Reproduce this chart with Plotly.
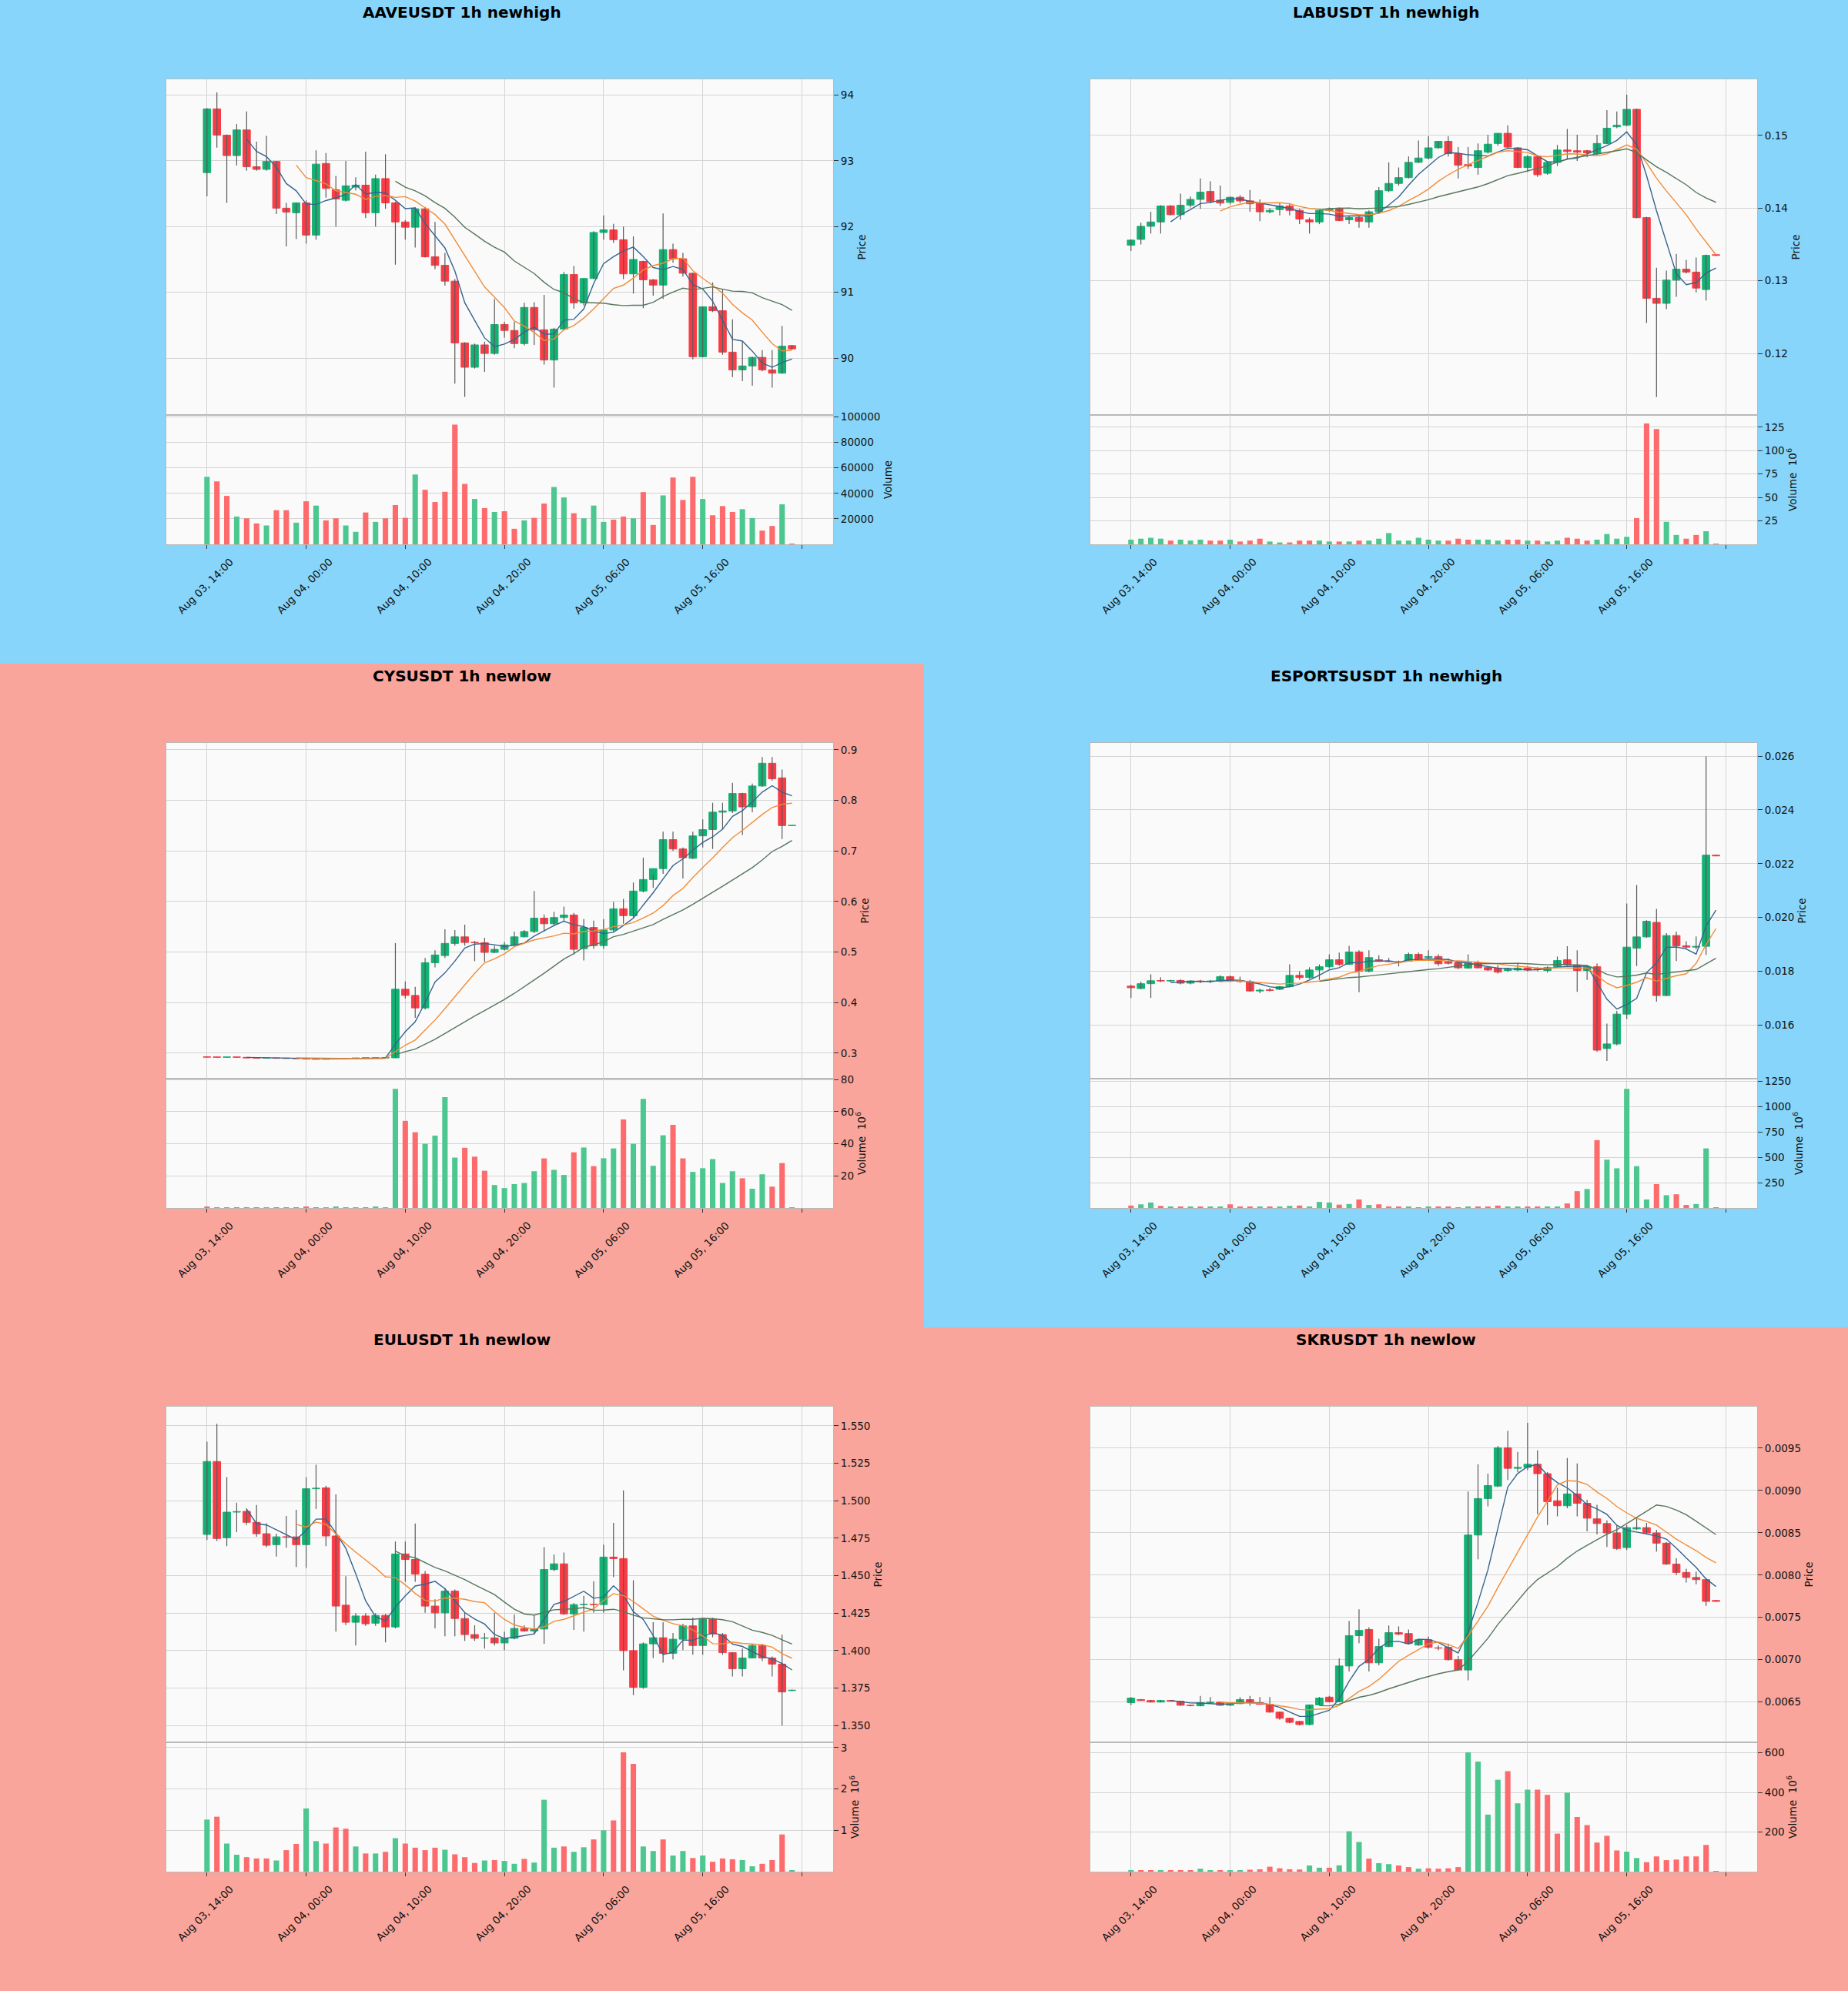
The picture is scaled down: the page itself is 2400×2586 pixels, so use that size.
import plotly.graph_objects as go
import pandas as pd

W, H = 2400, 2586

# ---------------- shared x axis ----------------
x_tick_index = [0, 10, 20, 30, 40, 50]
x_tick_labels = ["Aug 03, 14:00", "Aug 04, 00:00", "Aug 04, 10:00", "Aug 04, 20:00",
                 "Aug 05, 06:00", "Aug 05, 16:00"]
ma_windows = [5, 10, 20]

# ---------------- AAVEUSDT ----------------
aave_open = [92.82, 93.79, 93.39, 93.08, 93.47, 92.91, 92.87, 92.99, 92.28, 92.21,
             92.36, 91.87, 92.96, 92.56, 92.40, 92.60, 92.63, 92.21, 92.73, 92.36,
             92.07, 91.99, 92.27, 91.54, 91.41, 91.17, 90.23, 89.86, 90.20, 90.07,
             90.51, 90.42, 90.22, 90.77, 90.43, 89.97, 90.44, 91.27, 90.84, 91.21,
             91.91, 91.95, 91.80, 91.28, 91.47, 91.19, 91.11, 91.65, 91.51, 91.29,
             90.02, 90.78, 90.72, 90.09, 89.82, 89.88, 90.01, 89.82, 89.77, 90.19]
aave_high = [93.80, 94.04, 93.40, 93.56, 93.75, 93.29, 93.38, 93.00, 92.36, 92.36,
             92.40, 93.16, 93.12, 92.77, 93.00, 92.75, 93.14, 92.79, 93.10, 92.38,
             92.10, 92.29, 92.30, 92.07, 91.60, 91.20, 90.24, 90.22, 90.25, 90.90,
             90.55, 90.55, 90.84, 90.85, 90.96, 90.46, 91.31, 91.40, 91.21, 91.93,
             92.17, 92.04, 92.00, 91.85, 91.48, 91.20, 92.20, 91.74, 91.60, 91.30,
             90.78, 91.15, 91.05, 90.59, 90.25, 90.02, 90.12, 90.12, 90.49, 90.20]
aave_low = [92.46, 93.20, 92.36, 92.93, 92.85, 92.85, 92.85, 92.19, 91.70, 91.81,
            91.74, 91.80, 92.44, 92.00, 92.38, 92.55, 92.13, 92.00, 92.27, 91.42,
            91.80, 91.68, 91.53, 91.35, 91.10, 89.61, 89.41, 89.84, 89.79, 90.05,
            90.31, 90.15, 90.19, 90.20, 89.90, 89.55, 90.42, 90.75, 90.80, 91.20,
            91.80, 91.75, 91.20, 90.98, 90.76, 90.95, 90.90, 91.45, 91.24, 89.98,
            90.01, 90.70, 90.05, 89.71, 89.65, 89.58, 89.80, 89.55, 89.76, 90.13]
aave_close = [93.79, 93.39, 93.08, 93.47, 92.91, 92.87, 92.99, 92.28, 92.22, 92.36,
              91.87, 92.95, 92.58, 92.42, 92.62, 92.63, 92.21, 92.73, 92.36, 92.07,
              91.99, 92.27, 91.54, 91.41, 91.17, 90.23, 89.86, 90.20, 90.07, 90.51,
              90.42, 90.22, 90.77, 90.43, 89.97, 90.44, 91.27, 90.84, 91.21, 91.91,
              91.95, 91.80, 91.28, 91.50, 91.19, 91.11, 91.65, 91.51, 91.29, 90.02,
              90.78, 90.72, 90.09, 89.82, 89.88, 90.01, 89.82, 89.77, 90.18, 90.14]
aave_volume = [53000, 49400, 38000, 21800, 20400, 16400, 14800, 26800, 26800, 17000,
               33800, 30400, 18800, 20400, 14800, 9800, 25000, 17600, 20400, 30800,
               20800, 54800, 42800, 33200, 41200, 94000, 47400, 35600, 28400, 25400,
               26000, 12200, 18800, 20800, 32000, 45000, 36800, 24400, 20400, 30400,
               17600, 19400, 21800, 20400, 41000, 15200, 38400, 52400, 34800, 53000,
               35600, 22800, 30000, 25400, 27600, 20600, 10800, 14400, 31400, 500]
aave_price_ticks = ["90", "91", "92", "93", "94"]
aave_volume_ticks = ["20000", "40000", "60000", "80000", "100000"]

# ---------------- LABUSDT ----------------
lab_open = [.1349, .1357, .1375, .1381, .1403, .1391, .1404, .1412, .1423, .1411,
            .1408, .1415, .1410, .1407, .1395, .1398, .1403, .1397, .1384, .1381,
            .1397, .1400, .1384, .1387, .1381, .1395, .1424, .1434, .1442, .1463,
            .1469, .1483, .1492, .1475, .1460, .1456, .1477, .1489, .1503, .1483,
            .1456, .1471, .1448, .1463, .1480, .1479, .1479, .1475, .1489, .1512,
            .1514, .1536, .1387, .1276, .1269, .1301, .1316, .1312, .1288, .1336]
lab_high = [.1357, .1380, .1395, .1404, .1404, .1420, .1416, .1441, .1437, .1431,
            .1416, .1418, .1425, .1412, .1400, .1407, .1407, .1399, .1387, .1399,
            .1401, .1401, .1390, .1390, .1397, .1429, .1463, .1456, .1471, .1493,
            .1499, .1492, .1499, .1484, .1484, .1489, .1501, .1503, .1514, .1484,
            .1473, .1473, .1465, .1487, .1509, .1501, .1480, .1501, .1535, .1533,
            .1556, .1537, .1388, .1318, .1314, .1337, .1329, .1332, .1336, .1336]
lab_low = [.1341, .1350, .1365, .1365, .1390, .1384, .1401, .1399, .1407, .1403,
           .1405, .1407, .1395, .1382, .1393, .1390, .1390, .1378, .1365, .1378,
           .1395, .1382, .1378, .1373, .1373, .1392, .1422, .1431, .1441, .1462,
           .1467, .1482, .1471, .1441, .1454, .1446, .1475, .1486, .1482, .1455,
           .1450, .1443, .1446, .1458, .1467, .1465, .1470, .1473, .1488, .1510,
           .1513, .1386, .1242, .1140, .1261, .1278, .1310, .1284, .1273, .1334]
lab_close = [.1356, .1375, .1381, .1403, .1391, .1404, .1412, .1422, .1409, .1407,
             .1415, .1410, .1406, .1395, .1397, .1403, .1397, .1385, .1381, .1397,
             .1399, .1383, .1387, .1382, .1395, .1424, .1434, .1442, .1463, .1469,
             .1483, .1492, .1475, .1459, .1458, .1479, .1488, .1503, .1484, .1456,
             .1471, .1446, .1463, .1480, .1478, .1477, .1476, .1489, .1510, .1514,
             .1536, .1387, .1276, .1269, .1301, .1316, .1312, .1290, .1335, .1335]
lab_volume = [5, 6, 7, 6, 4, 5, 4, 5, 4, 4, 5, 3, 4, 6, 3, 2, 2, 4, 4, 4,
              3, 3, 3, 4, 4, 6, 12, 4, 4, 7, 5, 4, 4, 6, 5, 5, 5, 4, 5, 5,
              4, 4, 3, 4, 7, 6, 4, 5, 11, 6, 8, 28, 129, 123, 24, 10, 6, 10, 14, 0.5]
lab_price_ticks = ["0.12", "0.13", "0.14", "0.15"]
lab_volume_ticks = ["25", "50", "75", "100", "125"]

# ---------------- CYSUSDT ----------------
cys_open = [.2926, .2920, .2918, .2920, .2918, .2905, .2900, .2902, .2898, .2895,
            .2890, .2884, .2880, .2887, .2892, .2898, .2904, .2902, .2905, .2908,
            .4265, .4142, .3895, .4789, .4931, .5171, .5301, .5190, .5185, .4993,
            .5054, .5141, .5301, .5406, .5671, .5560, .5683, .5733, .5067, .5486,
            .5128, .5437, .5856, .5720, .6207, .6435, .6651, .7224, .7039, .6855,
            .7298, .7422, .7767, .7792, .8137, .7872, .8285, .8735, .8445, .7500]
cys_high = [.2930, .2924, .2924, .2922, .2920, .2908, .2906, .2904, .2900, .2898,
            .2893, .2888, .2890, .2894, .2900, .2908, .2908, .2908, .2912, .5178,
            .4419, .4314, .4882, .5036, .5449, .5437, .5541, .5220, .5282, .5128,
            .5200, .5406, .5437, .6207, .5745, .5796, .5899, .5776, .5652, .5621,
            .5652, .5991, .6053, .6374, .6867, .6530, .7379, .7379, .7070, .7379,
            .7625, .7952, .7952, .8347, .8150, .8334, .8858, .8858, .8612, .7505]
cys_low = [.2918, .2915, .2915, .2912, .2900, .2895, .2896, .2894, .2890, .2886,
           .2878, .2874, .2876, .2882, .2888, .2894, .2896, .2898, .2900, .2905,
           .4080, .3698, .3864, .4697, .4882, .5128, .5128, .4820, .4808, .4980,
           .5030, .5120, .5290, .5380, .5406, .5510, .5610, .4956, .4832, .5067,
           .5067, .5400, .5560, .5680, .6180, .6269, .6546, .7000, .6454, .6840,
           .7070, .7039, .7422, .7750, .7317, .7767, .8270, .8390, .7237, .7498]
cys_close = [.2920, .2918, .2920, .2918, .2905, .2900, .2902, .2898, .2895, .2890,
             .2884, .2880, .2887, .2892, .2898, .2904, .2902, .2905, .2908, .4265,
             .4142, .3895, .4789, .4943, .5171, .5301, .5190, .5185, .4993, .5054,
             .5141, .5301, .5406, .5671, .5560, .5683, .5733, .5054, .5486, .5128,
             .5437, .5856, .5720, .6207, .6435, .6651, .7224, .7039, .6867, .7298,
             .7422, .7767, .7792, .8137, .7872, .8285, .8735, .8427, .7502, .7503]
cys_volume = [0.6, 0.1, 0.1, 0.1, 0.1, 0.1, 0.1, 0.1, 0.1, 0.2,
              0.8, 0.2, 0.1, 0.7, 0.1, 0.1, 0.2, 0.6, 0.1, 74.3,
              54.3, 47.2, 40.0, 45.1, 69.1, 31.4, 37.5, 32.0, 23.2, 14.3,
              12.4, 14.9, 15.6, 22.9, 30.9, 23.8, 20.6, 34.7, 37.7, 26.1,
              31.0, 37.1, 55.2, 40.0, 68.0, 26.3, 45.3, 51.8, 30.9, 22.5,
              24.8, 30.5, 15.6, 22.9, 18.5, 12.0, 21.0, 13.3, 28.0, 0.3]
cys_price_ticks = ["0.3", "0.4", "0.5", "0.6", "0.7", "0.8", "0.9"]
cys_volume_ticks = ["20", "40", "60", "80"]

# ---------------- ESPORTSUSDT ----------------
esports_open = [.01745, .01736, .01754, .01766, .01764, .01766, .01756, .01764, .01762, .01764,
                .01780, .01766, .01762, .01727, .01731, .01733, .01743, .01785, .01777, .01805,
                .01817, .01843, .01826, .01872, .01800, .01843, .01838, .01836, .01838, .01863,
                .01851, .01855, .01836, .01832, .01812, .01832, .01814, .01812, .01803, .01805,
                .01812, .01809, .01803, .01817, .01843, .01824, .01803, .01817, .01513, .01530,
                .01641, .01886, .01928, .01982, .01710, .01933, .01895, .01890, .01893, .02232]
esports_high = [.01750, .01762, .01789, .01778, .01768, .01770, .01766, .01768, .01768, .01785,
                .01785, .01780, .01768, .01736, .01738, .01745, .01826, .01800, .01815, .01826,
                .01863, .01870, .01895, .01878, .01878, .01860, .01850, .01840, .01870, .01870,
                .01878, .01863, .01848, .01835, .01863, .01840, .01818, .01823, .01812, .01832,
                .01820, .01815, .01818, .01855, .01893, .01878, .01820, .01829, .01606, .01653,
                .02052, .02121, .01990, .02032, .01942, .01948, .01912, .01930, .02599, .02233]
esports_low = [.01701, .01734, .01701, .01760, .01760, .01752, .01752, .01756, .01756, .01760,
               .01760, .01758, .01724, .01719, .01725, .01730, .01740, .01768, .01772, .01768,
               .01810, .01820, .01824, .01722, .01797, .01836, .01834, .01818, .01836, .01840,
               .01848, .01820, .01825, .01808, .01810, .01810, .01802, .01792, .01798, .01800,
               .01800, .01800, .01795, .01812, .01820, .01724, .01768, .01501, .01467, .01525,
               .01623, .01820, .01925, .01687, .01708, .01838, .01883, .01882, .01861, .02228]
esports_close = [.01739, .01754, .01765, .01764, .01766, .01756, .01764, .01762, .01764, .01780,
                 .01766, .01762, .01727, .01730, .01729, .01743, .01785, .01777, .01805, .01817,
                 .01843, .01826, .01872, .01800, .01851, .01838, .01836, .01834, .01863, .01843,
                 .01855, .01828, .01830, .01813, .01832, .01813, .01805, .01797, .01808, .01812,
                 .01805, .01808, .01814, .01840, .01824, .01803, .01817, .01507, .01530, .01641,
                 .01890, .01928, .01986, .01710, .01933, .01895, .01890, .01893, .02232, .02229]
esports_volume = [24, 36, 54, 21, 9, 9, 9, 9, 9, 9, 36, 12, 9, 9, 9, 9, 21, 24, 15, 60,
                  54, 33, 39, 84, 30, 36, 15, 9, 9, 3, 9, 9, 9, 3, 15, 15, 12, 24, 15, 15,
                  12, 12, 15, 15, 45, 166, 187, 668, 476, 391, 1174, 412, 84, 235, 126, 135,
                  30, 39, 587, 2]
esports_price_ticks = ["0.016", "0.018", "0.020", "0.022", "0.024", "0.026"]
esports_volume_ticks = ["250", "500", "750", "1000", "1250"]

# ---------------- EULUSDT ----------------
eul_open = [1.4775, 1.5262, 1.4753, 1.4924, 1.4929, 1.4856, 1.4780, 1.4707, 1.4759, 1.4759,
            1.4707, 1.5080, 1.5086, 1.4765, 1.4303, 1.4189, 1.4231, 1.4183, 1.4235, 1.4158,
            1.4645, 1.4608, 1.4510, 1.4297, 1.4252, 1.4397, 1.4214, 1.4107, 1.4082, 1.4085,
            1.4051, 1.4082, 1.4148, 1.4131, 1.4144, 1.4541, 1.4579, 1.4245, 1.4307, 1.4310,
            1.4307, 1.4624, 1.4614, 1.4000, 1.3755, 1.4045, 1.4086, 1.3982, 1.4076, 1.4165,
            1.4034, 1.4210, 1.4107, 1.3987, 1.3879, 1.3951, 1.4034, 1.3951, 1.3910, 1.3733]
eul_high = [1.5394, 1.5514, 1.5158, 1.4987, 1.4950, 1.4972, 1.4850, 1.4780, 1.4898, 1.4939,
            1.5158, 1.5241, 1.5100, 1.5042, 1.4496, 1.4250, 1.4250, 1.4250, 1.4245, 1.4728,
            1.4728, 1.4848, 1.4531, 1.4342, 1.4418, 1.4408, 1.4252, 1.4169, 1.4117, 1.4252,
            1.4127, 1.4241, 1.4169, 1.4241, 1.4690, 1.4641, 1.4655, 1.4318, 1.4366, 1.4463,
            1.4707, 1.4852, 1.5069, 1.4469, 1.4055, 1.4189, 1.4189, 1.4117, 1.4179, 1.4220,
            1.4220, 1.4220, 1.4117, 1.3989, 1.4014, 1.4044, 1.4044, 1.3961, 1.4107, 1.3740]
eul_low = [1.4738, 1.4732, 1.4697, 1.4790, 1.4840, 1.4760, 1.4690, 1.4628, 1.4686, 1.4558,
           1.4552, 1.4945, 1.4697, 1.4127, 1.4170, 1.4034, 1.4165, 1.4165, 1.4055, 1.4148,
           1.4459, 1.4459, 1.4252, 1.4148, 1.4096, 1.4096, 1.4065, 1.4065, 1.4013, 1.4034,
           1.4003, 1.4075, 1.4127, 1.4107, 1.4045, 1.4530, 1.4240, 1.4138, 1.4127, 1.4252,
           1.4252, 1.4490, 1.3869, 1.3703, 1.3745, 1.3951, 1.3920, 1.3941, 1.4003, 1.3972,
           1.3972, 1.4089, 1.3972, 1.3827, 1.3827, 1.3951, 1.3930, 1.3827, 1.3500, 1.3730]
eul_close = [1.5262, 1.4748, 1.4924, 1.4928, 1.4856, 1.4780, 1.4703, 1.4759, 1.4757, 1.4707,
             1.5080, 1.5084, 1.4765, 1.4297, 1.4189, 1.4231, 1.4179, 1.4235, 1.4158, 1.4645,
             1.4608, 1.4510, 1.4297, 1.4252, 1.4397, 1.4214, 1.4107, 1.4082, 1.4085, 1.4051,
             1.4082, 1.4148, 1.4131, 1.4144, 1.4541, 1.4579, 1.4245, 1.4307, 1.4310, 1.4307,
             1.4624, 1.4614, 1.4000, 1.3755, 1.4045, 1.4086, 1.3982, 1.4076, 1.4165, 1.4034,
             1.4210, 1.4111, 1.3987, 1.3879, 1.3951, 1.4034, 1.3951, 1.3910, 1.3724, 1.3736]
eul_volume = [1.26, 1.33, 0.68, 0.41, 0.35, 0.32, 0.32, 0.27, 0.52, 0.67,
              1.53, 0.74, 0.68, 1.07, 1.04, 0.61, 0.44, 0.44, 0.48, 0.81,
              0.68, 0.58, 0.52, 0.58, 0.53, 0.42, 0.35, 0.21, 0.27, 0.28,
              0.26, 0.19, 0.31, 0.22, 1.74, 0.58, 0.61, 0.48, 0.59, 0.78,
              1.00, 1.24, 2.89, 2.61, 0.61, 0.50, 0.78, 0.39, 0.50, 0.33,
              0.39, 0.24, 0.32, 0.30, 0.28, 0.13, 0.19, 0.28, 0.90, 0.02]
eul_price_ticks = ["1.350", "1.375", "1.400", "1.425", "1.450", "1.475", "1.500", "1.525", "1.550"]
eul_volume_ticks = ["1", "2", "3"]

# ---------------- SKRUSDT ----------------
skr_open = [.006492, .006529, .006518, .006499, .006518, .006510, .006462, .006455, .006492, .006499,
            .006462, .006481, .006529, .006492, .006473, .006381, .006308, .006271, .006234, .006466,
            .006558, .006503, .006926, .007284, .007357, .006963, .007155, .007320, .007309, .007173,
            .007236, .007140, .007147, .007000, .006878, .008473, .008904, .009051, .009504, .009261,
            .009272, .009309, .009198, .008878, .008819, .008959, .008848, .008664, .008609, .008498,
            .008325, .008546, .008561, .008498, .008377, .008130, .008031, .007972, .007946, .007700]
skr_high = [.006558, .006535, .006525, .006525, .006525, .006515, .006470, .006573, .006558, .006505,
            .006490, .006558, .006573, .006558, .006558, .006385, .006315, .006275, .006470, .006560,
            .006573, .007015, .007457, .007596, .007383, .007247, .007405, .007394, .007357, .007250,
            .007272, .007170, .007191, .007044, .008988, .009309, .009198, .009526, .009703, .009456,
            .009798, .009474, .009216, .009032, .009382, .009319, .008890, .008830, .008645, .008590,
            .008590, .008682, .008616, .008535, .008390, .008200, .008075, .008040, .007965, .007702]
skr_low = [.006462, .006515, .006495, .006495, .006505, .006455, .006450, .006450, .006485, .006455,
           .006455, .006475, .006455, .006470, .006374, .006290, .006250, .006223, .006226, .006460,
           .006495, .006500, .006860, .007195, .006860, .006934, .007150, .007290, .007180, .007165,
           .007130, .007110, .006990, .006870, .006757, .008186, .008811, .009040, .009124, .009217,
           .009240, .008719, .008591, .008694, .008790, .008694, .008517, .008480, .008332, .008296,
           .008296, .008535, .008490, .008278, .008120, .008000, .007912, .007890, .007633, .007685]
skr_close = [.006547, .006518, .006499, .006518, .006510, .006462, .006458, .006492, .006499, .006462,
             .006481, .006529, .006492, .006473, .006381, .006308, .006260, .006234, .006466, .006547,
             .006503, .006926, .007284, .007346, .006963, .007155, .007320, .007302, .007191, .007236,
             .007147, .007136, .007000, .006878, .008473, .008904, .009058, .009504, .009261, .009272,
             .009309, .009198, .008867, .008819, .008959, .008848, .008672, .008609, .008498, .008314,
             .008561, .008561, .008498, .008377, .008130, .008031, .007972, .007946, .007689, .007689]
skr_volume = [6, 4, 4, 4, 4, 4, 4, 15, 6, 6, 6, 6, 10, 12, 25, 17, 12, 11, 31, 20,
              20, 32, 204, 150, 66, 43, 38, 31, 23, 15, 17, 15, 17, 23, 602, 556, 288, 464, 507, 345,
              414, 414, 388, 192, 399, 276, 235, 147, 181, 107, 101, 69, 48, 77, 58, 61, 77, 77, 135, 1]
skr_price_ticks = ["0.0065", "0.0070", "0.0075", "0.0080", "0.0085", "0.0090", "0.0095"]
skr_volume_ticks = ["200", "400", "600"]

# ---------------- panel setup (layout only) ----------------
panels = [
    dict(title="AAVEUSDT 1h newhigh", o=aave_open, h=aave_high, l=aave_low, c=aave_close, v=aave_volume,
         pt=aave_price_ticks, vt=aave_volume_ticks, vlabel="Volume", prange=[89.134, 94.24], vrange=[0, 101500],
         col=0, row=0),
    dict(title="LABUSDT 1h newhigh", o=lab_open, h=lab_high, l=lab_low, c=lab_close, v=lab_volume,
         pt=lab_price_ticks, vt=lab_volume_ticks, vlabel="Volume  10<sup>6</sup>", prange=[0.11154, 0.15773],
         vrange=[0, 138], col=1, row=0),
    dict(title="CYSUSDT 1h newlow", o=cys_open, h=cys_high, l=cys_low, c=cys_close, v=cys_volume,
         pt=cys_price_ticks, vt=cys_volume_ticks, vlabel="Volume  10<sup>6</sup>", prange=[0.2496, 0.9136],
         vrange=[0, 80.6], col=0, row=1),
    dict(title="ESPORTSUSDT 1h newhigh", o=esports_open, h=esports_high, l=esports_low, c=esports_close,
         v=esports_volume, pt=esports_price_ticks, vt=esports_volume_ticks, vlabel="Volume  10<sup>6</sup>",
         prange=[0.01401, 0.02649], vrange=[0, 1274], col=1, row=1),
    dict(title="EULUSDT 1h newlow", o=eul_open, h=eul_high, l=eul_low, c=eul_close, v=eul_volume,
         pt=eul_price_ticks, vt=eul_volume_ticks, vlabel="Volume  10<sup>6</sup>", prange=[1.3388, 1.5628],
         vrange=[0, 3.13], col=0, row=2),
    dict(title="SKRUSDT 1h newlow", o=skr_open, h=skr_high, l=skr_low, c=skr_close, v=skr_volume,
         pt=skr_price_ticks, vt=skr_volume_ticks, vlabel="Volume  10<sup>6</sup>", prange=[0.006024, 0.00999],
         vrange=[0, 653], col=1, row=2),
]

BLUE = "#87d5fa"
SALMON = "#f9a59b"
FACE = "#fafafa"
panel_bg = [[BLUE, BLUE], [SALMON, BLUE], [SALMON, SALMON]]

UP, DOWN = "#12b174", "#f83c46"
VUP, VDOWN = "#4dc790", "#fd6b6c"
MA_COLORS = ["#35648e", "#f28c36", "#55765c"]
GRID = "#d4d4d4"
SPINE = "#b8b8b8"
FONT = "DejaVu Sans"
TXT = "#111111"

ROW_H = 862
col_x = [[216 / W, 1082 / W], [1416 / W, 2282 / W]]


def ydom(top_px, bot_px):
    return [1 - bot_px / H, 1 - top_px / H]


fig = go.Figure()
layout = dict(width=W, height=H, margin=dict(l=0, r=0, t=0, b=0, pad=0, autoexpand=False),
              paper_bgcolor=BLUE, plot_bgcolor=FACE, showlegend=False, barmode="overlay",
              font=dict(family=FONT, size=13, color=TXT))
shapes = []
annotations = []

for r in range(3):
    for cidx in range(2):
        shapes.append(dict(type="rect", xref="paper", yref="paper", layer="below",
                           x0=cidx * 0.5, x1=cidx * 0.5 + 0.5,
                           y0=1 - (r + 1) * ROW_H / H, y1=1 - r * ROW_H / H,
                           fillcolor=panel_bg[r][cidx], line=dict(width=0)))

for p, P in enumerate(panels):
    n_price = 2 * p + 1
    n_vol = 2 * p + 2
    xp = "x" if n_price == 1 else f"x{n_price}"
    yp = "y" if n_price == 1 else f"y{n_price}"
    xv, yv = f"x{n_vol}", f"y{n_vol}"
    top = P["row"] * ROW_H
    dom_x = col_x[P["col"]]
    pdom = ydom(top + 103, top + 539)
    vdom = ydom(top + 539, top + 707)

    # plot-area face (drawn above the panel colour, below grid)
    shapes.append(dict(type="rect", xref="paper", yref="paper", layer="below",
                       x0=dom_x[0], x1=dom_x[1], y0=vdom[0], y1=pdom[1],
                       fillcolor=FACE, line=dict(width=0)))

    o, h, l, c, v = P["o"], P["h"], P["l"], P["c"], P["v"]
    idx = list(range(len(c)))
    up = [cc >= oo for oo, cc in zip(o, c)]
    span = P["prange"][1] - P["prange"][0]

    # wicks
    wx, wy = [], []
    for i in idx:
        wx += [i, i, None]
        wy += [l[i], h[i], None]
    fig.add_trace(go.Scatter(x=wx, y=wy, mode="lines", line=dict(color="#5a5a5a", width=1.2),
                             xaxis=xp, yaxis=yp, hoverinfo="skip"))
    # bodies
    body_base = [min(oo, cc) for oo, cc in zip(o, c)]
    body_h = [max(abs(cc - oo), span * 0.0012) for oo, cc in zip(o, c)]
    bcol = [UP if u else DOWN for u in up]
    fig.add_trace(go.Bar(x=idx, y=body_h, base=body_base, width=0.75,
                         marker=dict(color=bcol, line=dict(color=bcol, width=1)),
                         xaxis=xp, yaxis=yp, hoverinfo="skip"))
    # moving averages
    cs = pd.Series(c)
    for w, mc in zip(ma_windows, MA_COLORS):
        ma = cs.rolling(w).mean()
        fig.add_trace(go.Scatter(x=idx, y=ma, mode="lines", line=dict(color=mc, width=1.4),
                                 xaxis=xp, yaxis=yp, hoverinfo="skip", connectgaps=False))
    # volume
    vcol = [VUP if u else VDOWN for u in up]
    fig.add_trace(go.Bar(x=idx, y=v, width=0.55, marker=dict(color=vcol, line=dict(width=0)),
                         xaxis=xv, yaxis=yv, hoverinfo="skip"))

    xrange = [-4.1, 63.15]
    minor = dict(tick0=0, dtick=10, showgrid=True, gridcolor=GRID, gridwidth=1.4)
    common_x = dict(domain=dom_x, range=xrange, tickvals=x_tick_index, showgrid=True,
                    gridcolor=GRID, gridwidth=1.4, zeroline=False, showline=True, mirror=True,
                    linecolor=SPINE, linewidth=1.2)
    layout["xaxis" if n_price == 1 else f"xaxis{n_price}"] = dict(
        common_x, anchor=yp, showticklabels=False, ticks="", matches=xv,
        minor=dict(minor, ticks=""))
    layout[f"xaxis{n_vol}"] = dict(
        common_x, anchor=yv, showticklabels=False, ticks="outside", ticklen=5,
        tickcolor="#333333", minor=dict(minor, ticks="outside", ticklen=5, tickcolor="#333333"))

    # rotated date labels, centred under each tick (as matplotlib draws them)
    for xi, lab in zip(x_tick_index, x_tick_labels):
        annotations.append(dict(text=lab, xref=xv, yref="paper", x=xi, y=1 - (top + 719) / H,
                                xanchor="center", yanchor="top", textangle=-45, showarrow=False,
                                xshift=-2, font=dict(family=FONT, size=13.5, color=TXT)))

    pvals = [float(t) for t in P["pt"]]
    layout["yaxis" if n_price == 1 else f"yaxis{n_price}"] = dict(
        domain=pdom, anchor=xp, side="right", range=P["prange"],
        tickvals=pvals, ticktext=P["pt"], ticks="outside", ticklen=6, tickcolor="#333333",
        showgrid=True, gridcolor=GRID, gridwidth=1.4, zeroline=False, showline=True, mirror=True,
        linecolor=SPINE, linewidth=1.2, tickfont=dict(family=FONT, size=13.5, color=TXT),
        title=dict(text="Price", font=dict(family=FONT, size=13.5, color=TXT), standoff=6))
    vvals = [float(t) for t in P["vt"]]
    layout[f"yaxis{n_vol}"] = dict(
        domain=vdom, anchor=xv, side="right", range=P["vrange"],
        tickvals=vvals, ticktext=P["vt"], ticks="outside", ticklen=6, tickcolor="#333333",
        showgrid=True, gridcolor=GRID, gridwidth=1.4, zeroline=False, showline=True, mirror=True,
        linecolor=SPINE, linewidth=1.2, tickfont=dict(family=FONT, size=13.5, color=TXT),
        title=dict(text=P["vlabel"], font=dict(family=FONT, size=13.5, color=TXT), standoff=6))

    annotations.append(dict(text=f"<b>{P['title']}</b>", xref="paper", yref="paper",
                            x=0.25 + 0.5 * P["col"], y=1 - (top + 16) / H, xanchor="center",
                            yanchor="middle", showarrow=False,
                            font=dict(family=FONT, size=20, color="#000000")))

layout["shapes"] = shapes
layout["annotations"] = annotations
fig.update_layout(**layout)
fig.write_html("out.html", config={"displayModeBar": False},
               post_script="document.body.style.margin='0';document.body.style.overflow='hidden';")
